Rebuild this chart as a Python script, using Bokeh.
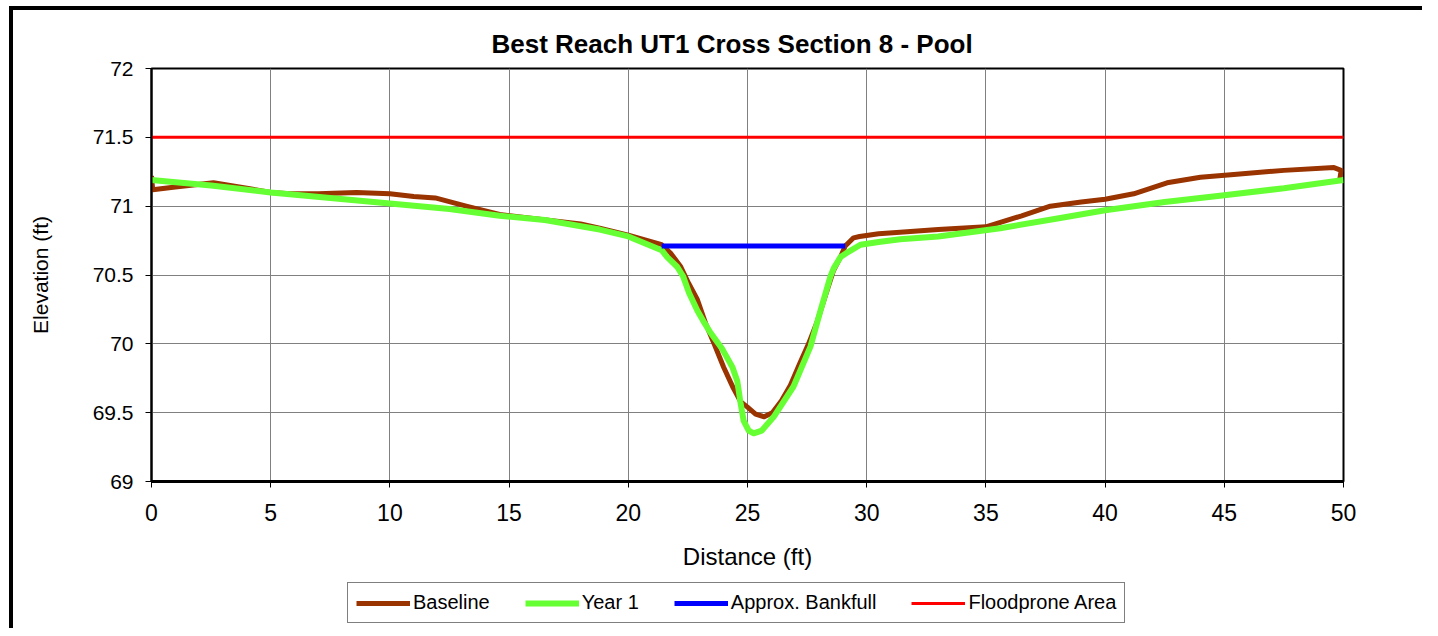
from bokeh.plotting import figure
from bokeh.layouts import column
from bokeh.models import Legend, LegendItem, Range1d, FixedTicker, CustomJSTickFormatter
from bokeh.embed import file_html
from bokeh.resources import INLINE

title = "Best Reach UT1 Cross Section 8 - Pool"
x_label = "Distance (ft)"
y_label = "Elevation (ft)"
x_ticks = [0, 5, 10, 15, 20, 25, 30, 35, 40, 45, 50]
y_ticks = [69, 69.5, 70, 70.5, 71, 71.5, 72]

baseline_x = [0, 0.05, 1.0, 2.6, 4.0, 5.0, 5.8, 7.0, 8.6, 10.0, 11.0, 11.9, 13.2, 14.6,
              16.0, 18.0, 18.8, 20.0, 21.4, 21.77, 22.2, 22.53, 22.9, 23.24, 23.6, 24.0,
              24.4, 24.71, 25.0, 25.34, 25.7, 26.04, 26.4, 26.8, 27.2, 27.56, 27.9, 28.34,
              28.6, 28.9, 29.1, 29.45, 29.7, 30.5, 31.4, 33.0, 35.0, 36.5, 37.7, 39.0,
              40.0, 41.2, 42.6, 44.0, 45.4, 47.5, 49.6, 49.9, 49.85]
baseline_y = [71.22, 71.12, 71.14, 71.17, 71.13, 71.10, 71.09, 71.09, 71.10, 71.09, 71.07,
              71.06, 71.00, 70.94, 70.91, 70.87, 70.84, 70.79, 70.72, 70.66, 70.56, 70.44,
              70.32, 70.15, 70.00, 69.83, 69.68, 69.58, 69.54, 69.49, 69.47, 69.50, 69.58,
              69.70, 69.86, 70.00, 70.15, 70.39, 70.53, 70.63, 70.71, 70.77, 70.78, 70.80,
              70.81, 70.83, 70.85, 70.93, 71.00, 71.03, 71.05, 71.09, 71.17, 71.21, 71.23,
              71.26, 71.28, 71.26, 71.20]

year1_x = [0, 2.5, 5, 7.5, 10, 12.5, 14.6, 16.5, 18.8, 20, 21.4, 21.63, 22.05, 22.3, 22.55,
           22.9, 23.2, 23.45, 23.95, 24.37, 24.57, 24.7, 24.84, 25.05, 25.26, 25.6, 26.1,
           26.93, 27.64, 28.06, 28.48, 28.62, 28.9, 29.25, 29.74, 30.5, 31.4, 33, 35.6, 38,
           40, 42.5, 45, 47.5, 50]
year1_y = [71.19, 71.15, 71.10, 71.06, 71.02, 70.98, 70.93, 70.90, 70.83, 70.78, 70.68,
           70.63, 70.56, 70.49, 70.37, 70.24, 70.15, 70.08, 69.96, 69.83, 69.73, 69.58,
           69.44, 69.37, 69.35, 69.37, 69.47, 69.69, 69.98, 70.24, 70.49, 70.55, 70.63,
           70.67, 70.72, 70.74, 70.76, 70.78, 70.84, 70.91, 70.97, 71.03, 71.08, 71.13,
           71.19]

bankfull_x = [21.4, 29.1]
bankfull_y = [70.71, 70.71]

floodprone_x = [0, 50]
floodprone_y = [71.5, 71.5]

series_names = ["Baseline", "Year 1", "Approx. Bankfull", "Floodprone Area"]
series_colors = ["#993300", "#66FF33", "#0000FF", "#FF0000"]
series_widths = [5, 6, 5, 3]

FONT = "Liberation Sans"

p = figure(width=1422, height=580, output_backend="svg", toolbar_location=None,
           x_range=Range1d(0, 50), y_range=Range1d(69, 72),
           min_border_left=151, min_border_right=79, min_border_top=68, min_border_bottom=99)

p.title.text = title
p.title.align = "left"
p.title.offset = 340
p.title.standoff = 19
p.title.text_font = FONT
p.title.text_font_size = "26px"
p.title.text_font_style = "bold"
p.title.text_color = "black"

series = [(baseline_x, baseline_y), (year1_x, year1_y),
          (bankfull_x, bankfull_y), (floodprone_x, floodprone_y)]
for (xs, ys), c, w in zip(series, series_colors, series_widths):
    p.line(xs, ys, line_color=c, line_width=w, line_join="round")

p.xaxis.ticker = FixedTicker(ticks=x_ticks)
p.yaxis.ticker = FixedTicker(ticks=y_ticks)
p.yaxis.formatter = CustomJSTickFormatter(code="return tick.toString();")
for ax in (p.xaxis[0], p.yaxis[0]):
    ax.axis_line_color = "black"
    ax.major_tick_line_color = "black"
    ax.major_tick_out = 6
    ax.major_tick_in = 0
    ax.minor_tick_line_color = None
    ax.major_label_text_font = FONT
    ax.major_label_text_color = "black"
    ax.axis_label_text_font = FONT
    ax.axis_label_text_font_style = "normal"
    ax.axis_label_text_color = "black"
p.xaxis.axis_line_width = 3
p.yaxis.axis_line_width = 2
p.xaxis.major_label_text_font_size = "23px"
p.yaxis.major_label_text_font_size = "21px"
p.xaxis.axis_label = x_label
p.yaxis.axis_label = y_label
p.xaxis.axis_label_text_font_size = "24px"
p.yaxis.axis_label_text_font_size = "21px"
p.xaxis.major_label_standoff = 16
p.yaxis.major_label_standoff = 12
p.xaxis.axis_label_standoff = 19
p.yaxis.axis_label_standoff = 38

p.xgrid.grid_line_color = "#808080"
p.ygrid.grid_line_color = "#808080"
p.outline_line_color = "black"
p.outline_line_width = 2
p.background_fill_color = "white"
p.border_fill_color = None

# legend strip below the chart (its lines fall outside this strip's ranges)
lf = figure(width=1422, height=48, output_backend="svg", toolbar_location=None,
            x_range=Range1d(0, 1), y_range=Range1d(0, 1), min_border=0,
            x_axis_location=None, y_axis_location=None)
lf.xgrid.visible = False
lf.ygrid.visible = False
lf.outline_line_color = None
lf.background_fill_color = None
lf.border_fill_color = None
items = []
for name, (xs, ys), c, w in zip(series_names, series, series_colors, series_widths):
    r = lf.line(xs, ys, line_color=c, line_width=w)
    items.append(LegendItem(label=name, renderers=[r]))
legend = Legend(items=items, orientation="horizontal", location=(196, 5))
legend.label_text_font = FONT
legend.label_text_font_size = "20px"
legend.label_text_color = "black"
legend.glyph_width = 54
legend.glyph_height = 20
legend.label_standoff = 3
legend.spacing = 35
legend.padding = 8
legend.margin = 0
legend.border_line_color = "black"
legend.border_line_width = 1
legend.background_fill_color = "white"
legend.background_fill_alpha = 1
lf.add_layout(legend, "center")

layout = column(p, lf, spacing=0)
layout.styles = {"box-shadow": "inset 9px 6px 0 0 white, inset 13px 10px 0 0 black"}

open("out.html", "w").write(file_html(layout, INLINE))
